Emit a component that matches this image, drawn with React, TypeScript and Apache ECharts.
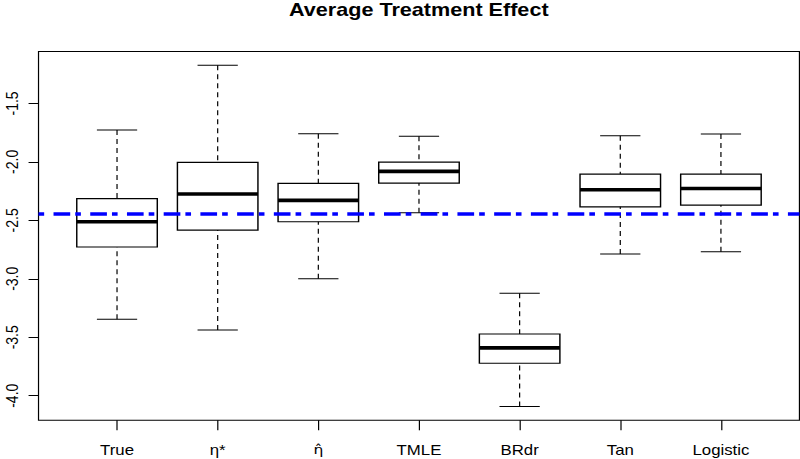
import { useEffect, useRef } from "react";
import * as echarts from "echarts";

// ---- data ----
const categories = ["True", "η*", "η\u0302", "TMLE", "BRdr", "Tan", "Logistic"];
const lowerWhisker = [-3.346, -3.438, -2.999, -2.435, -4.093, -2.788, -2.768];
const q1Values = [-2.728, -2.583, -2.512, -2.181, -3.722, -2.384, -2.369];
const medianValues = [-2.512, -2.275, -2.329, -2.081, -3.591, -2.238, -2.227];
const q3Values = [-2.315, -2.004, -2.184, -2.002, -3.472, -2.104, -2.104];
const upperWhisker = [-1.728, -1.173, -1.76, -1.78, -3.124, -1.777, -1.762];
const referenceLine = -2.435;
const yTickValues = [-4.0, -3.5, -3.0, -2.5, -2.0, -1.5];
const xPositions = [1, 2, 3, 4, 5, 6, 7];
const chartTitle = "Average Treatment Effect";

// axis ranges as R computes them (4% extension)
const xMin = 0.22;
const xMax = 7.78;
const yMin = -4.21;
const yMax = -1.056;

// ---- layout (reference was stretched horizontally) ----
const STRETCH = 1.2;
const OUTER_W = 800;
const OUTER_H = 459;
const INNER_W = OUTER_W / STRETCH;
const GRID_LEFT = 32.1;
const GRID_RIGHT = 0.8;
const BOX_WIDTH = 0.8;
const CAP_WIDTH = 0.4;
const FONT = "'Liberation Sans', Arial, Helvetica, sans-serif";

export default function App() {
  const ref = useRef<HTMLDivElement>(null);

  useEffect(() => {
    if (!ref.current) return;
    const chart = echarts.init(ref.current, undefined, { renderer: "svg" });

    const data = xPositions.map((x, i) => [
      x,
      lowerWhisker[i],
      q1Values[i],
      medianValues[i],
      q3Values[i],
      upperWhisker[i],
    ]);

    const whiskerStyle = { stroke: "#000", lineWidth: 1, lineDash: [5, 4], fill: "none" };
    const solidStyle = { stroke: "#000", lineWidth: 1, fill: "none" };

    const labelFor = (v: number) => {
      const i = Math.round(v) - 1;
      if (i === 2) return "{hat|" + categories[i] + "}";
      return categories[i] ?? "";
    };

    chart.setOption({
      animation: false,
      graphic: [
        {
          type: "text",
          x: GRID_LEFT + (INNER_W - GRID_LEFT - GRID_RIGHT) / 2,
          y: 1,
          style: {
            text: chartTitle,
            textAlign: "center",
            textVerticalAlign: "top",
            fontFamily: FONT,
            fontSize: 18,
            fontWeight: "bold",
            fill: "#000",
          },
        },
      ],
      grid: {
        left: GRID_LEFT,
        right: GRID_RIGHT,
        top: 51.5,
        bottom: 38.7,
        show: true,
        borderColor: "#000",
        borderWidth: 1,
        backgroundColor: "transparent",
        containLabel: false,
        outerBoundsMode: "none",
      },
      xAxis: {
        type: "value",
        min: xMin,
        max: xMax,
        axisLine: { show: false },
        splitLine: { show: false },
        axisTick: {
          show: true,
          customValues: xPositions,
          length: 10,
          lineStyle: { color: "#000", width: 1 },
        },
        axisLabel: {
          customValues: xPositions,
          formatter: labelFor,
          margin: 23,
          fontFamily: FONT,
          fontSize: 14,
          color: "#000",
          rich: {
            hat: { fontFamily: "'DejaVu Sans', sans-serif", fontSize: 13, color: "#000" },
          },
        },
      },
      yAxis: {
        type: "value",
        min: yMin,
        max: yMax,
        axisLine: { show: false },
        splitLine: { show: false },
        axisTick: {
          show: true,
          customValues: yTickValues,
          length: 8.3,
          lineStyle: { color: "#000", width: 1 },
        },
        axisLabel: {
          customValues: yTickValues,
          formatter: (v: number) => v.toFixed(1),
          rotate: 90,
          margin: 15,
          fontFamily: FONT,
          fontSize: 14,
          color: "#000",
        },
      },
      series: [
        {
          type: "custom",
          z: 2,
          data,
          encode: { x: 0, y: [1, 2, 3, 4, 5] },
          renderItem: (_params: any, api: any) => {
            const x = api.value(0);
            const lo = api.coord([x, api.value(1)]);
            const q1 = api.coord([x, api.value(2)]);
            const med = api.coord([x, api.value(3)]);
            const q3 = api.coord([x, api.value(4)]);
            const hi = api.coord([x, api.value(5)]);
            const halfBox = api.size([BOX_WIDTH / 2, 0])[0];
            const halfCap = api.size([CAP_WIDTH / 2, 0])[0];
            const cx = lo[0];
            return {
              type: "group",
              children: [
                { type: "line", shape: { x1: cx, y1: hi[1], x2: cx, y2: q3[1] }, style: whiskerStyle },
                { type: "line", shape: { x1: cx, y1: lo[1], x2: cx, y2: q1[1] }, style: whiskerStyle },
                { type: "line", shape: { x1: cx - halfCap, y1: hi[1], x2: cx + halfCap, y2: hi[1] }, style: solidStyle },
                { type: "line", shape: { x1: cx - halfCap, y1: lo[1], x2: cx + halfCap, y2: lo[1] }, style: solidStyle },
                {
                  type: "rect",
                  shape: { x: cx - halfBox, y: q3[1], width: 2 * halfBox, height: q1[1] - q3[1] },
                  style: { stroke: "#000", lineWidth: 1.2, fill: "none" },
                },
                {
                  type: "line",
                  shape: { x1: cx - halfBox, y1: med[1], x2: cx + halfBox, y2: med[1] },
                  style: { stroke: "#000", lineWidth: 3.6, fill: "none" },
                },
              ],
            };
          },
        },
        {
          type: "line",
          z: 5,
          data: [],
          markLine: {
            silent: true,
            symbol: ["none", "none"],
            label: { show: false },
            lineStyle: { color: "#0000FF", width: 3.5, type: [4.7, 7.8, 13.9, 4.2], cap: "butt" },
            data: [{ yAxis: referenceLine }],
          },
        },
      ],
    });

    return () => chart.dispose();
  }, []);

  return (
    <div
      style={{
        position: "fixed",
        left: 0,
        top: 0,
        width: OUTER_W,
        height: OUTER_H,
        overflow: "hidden",
        background: "#fff",
      }}
    >
      <div
        ref={ref}
        style={{
          width: INNER_W,
          height: OUTER_H,
          transform: `scaleX(${STRETCH})`,
          transformOrigin: "0 0",
        }}
      />
    </div>
  );
}
